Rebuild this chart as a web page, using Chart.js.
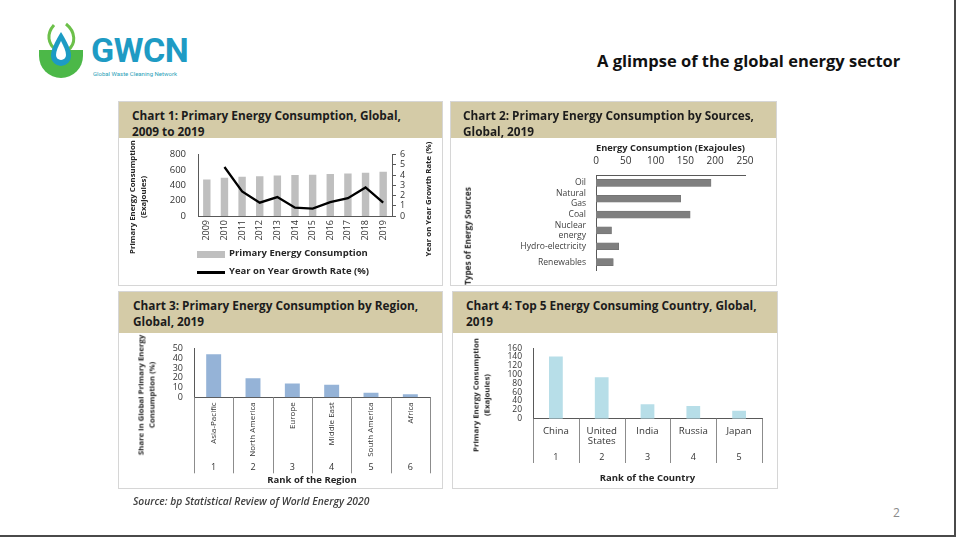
<!DOCTYPE html>
<html>
<head>
<meta charset="utf-8">
<script src="https://cdn.jsdelivr.net/npm/chart.js@4.4.0/dist/chart.umd.min.js"></script>
<style>
  body { margin: 0; background: #fff; font-family: "Open Sans", sans-serif; color: #222; }
  #slide { position: relative; width: 954px; height: 535px; border-right: 2px solid #4a4a4a; border-bottom: 2px solid #4a4a4a; overflow: hidden; }
  .abs { position: absolute; }
  .panel { position: absolute; border: 1px solid #d6d6d6; box-sizing: border-box; }
  .head { position: absolute; left: 0; top: 0; right: 0; background: #d4cba7; font-weight: 700; font-size: 11.8px; line-height: 15.5px; color: #1c1c1c; box-sizing: border-box; padding-top: 6px; white-space: nowrap; }
  .box { position: absolute; }
  .vt { position: absolute; transform: translate(-50%, -50%) rotate(-90deg); white-space: nowrap; text-align: center; font-size: 7.8px; font-weight: 700; line-height: 10.5px; color: #262626; }
  .leg { position: absolute; font-size: 9.5px; font-weight: 700; color: #262626; white-space: nowrap; }
</style>
</head>
<body>
<div id="slide">
  <!-- logo -->
  <svg class="abs" style="left:36px;top:22px" width="52" height="58" viewBox="0 0 52 58">
    <path d="M18 3 C10 12 12 22 20 28" fill="none" stroke="#6cc04a" stroke-width="3"/>
    <path d="M30 2 C40 10 40 22 32 28" fill="none" stroke="#6cc04a" stroke-width="3"/>
    <path d="M3 28 L47 28 L47 34 A22 22 0 0 1 3 34 Z" fill="#4cb848"/>
    <path d="M25 10 C19 20 15 27 15 34 A10 10 0 0 0 35 34 C35 27 31 20 25 10 Z" fill="#1c9bc4"/>
    <path d="M25 19 C22 25 20 29 20 33 A5 5 0 0 0 30 33 C30 29 28 25 25 19 Z" fill="#fff"/>
  </svg>
  <div class="abs" style="left:91px;top:30px;font-family:Roboto,sans-serif;font-weight:700;font-size:34px;line-height:40px;color:#1e9bc4;letter-spacing:-0.5px">GWCN</div>
  <div class="abs" style="left:93px;top:70px;font-family:Roboto,sans-serif;font-size:6px;line-height:8px;color:#2b9fb8">Global Waste Cleaning Network</div>

  <div class="abs" style="left:597px;top:50px;font-weight:700;font-size:16.5px;line-height:22px;color:#111;white-space:nowrap">A glimpse of the global energy sector</div>

  <!-- chart 1 -->
  <div class="panel" style="left:118px;top:101px;width:325px;height:185px">
    <div class="head" style="height:36px;padding-left:13px">Chart 1: Primary Energy Consumption, Global,<br>2009 to 2019</div>
  </div>
  <div class="box" style="left:118px;top:137px;width:325px;height:110px"><canvas id="c1"></canvas></div>
  <div class="vt" style="left:137px;top:197px">Primary Energy Consumption<br>(Exajoules)</div>
  <div class="vt" style="left:428px;top:199px">Year on Year Growth Rate (%)</div>
  <div class="abs" style="left:197px;top:251px;width:28px;height:7px;background:#bfbfbf"></div>
  <div class="leg" style="left:229px;top:246px">Primary Energy Consumption</div>
  <div class="abs" style="left:197px;top:271px;width:28px;height:2.5px;background:#000"></div>
  <div class="leg" style="left:229px;top:264px">Year on Year Growth Rate (%)</div>

  <!-- chart 2 -->
  <div class="panel" style="left:450px;top:101px;width:327px;height:185px">
    <div class="head" style="height:36px;padding-left:12px">Chart 2: Primary Energy Consumption by Sources,<br>Global, 2019</div>
  </div>
  <div class="box" style="left:450px;top:137px;width:326px;height:148px"><canvas id="c2"></canvas></div>
  <div class="vt" style="left:468px;top:236px;font-size:8.2px">Types of Energy Sources</div>

  <!-- chart 3 -->
  <div class="panel" style="left:118px;top:291px;width:325px;height:198px">
    <div class="head" style="height:41px;padding-left:14px">Chart 3: Primary Energy Consumption by Region,<br>Global, 2019</div>
  </div>
  <div class="box" style="left:118px;top:332px;width:323px;height:156px"><canvas id="c3"></canvas></div>
  <div class="vt" style="left:146px;top:395px">Share in Global Primary Energy<br>Consumption (%)</div>

  <!-- chart 4 -->
  <div class="panel" style="left:452px;top:291px;width:326px;height:198px">
    <div class="head" style="height:41px;padding-left:13px">Chart 4: Top 5 Energy Consuming Country, Global,<br>2019</div>
  </div>
  <div class="box" style="left:452px;top:332px;width:326px;height:156px"><canvas id="c4"></canvas></div>
  <div class="vt" style="left:481px;top:395px">Primary Energy Consumption<br>(Exajoules)</div>

  <div class="abs" style="left:133px;top:494px;font-style:italic;font-weight:600;font-size:10.3px;line-height:14px;color:#404040;white-space:nowrap">Source: bp Statistical Review of World Energy 2020</div>
  <div class="abs" style="left:893px;top:505px;font-size:12px;line-height:16px;color:#8a8a8a">2</div>
</div>

<script>
// chart 1 - global consumption 2009-2019
const years = ['2009', '2010', '2011', '2012', '2013', '2014', '2015', '2016', '2017', '2018', '2019'];
const consumption = [476, 500, 512, 520, 527, 535, 539, 547, 555, 566, 578];
const growthRate = [null, 4.8, 2.4, 1.3, 1.85, 0.82, 0.73, 1.35, 1.75, 2.8, 1.3];

// chart 2 - by source
const sources = ['Oil', ['Natural', 'Gas'], 'Coal', ['Nuclear', 'energy'], 'Hydro-electricity', 'Renewables'];
const sourceValues = [193, 142, 158, 26, 38, 29];

// chart 3 - by region
const regions = ['Asia-Pacific', 'North America', 'Europe', 'Middle East', 'South America', 'Africa'];
const regionRanks = ['1', '2', '3', '4', '5', '6'];
const regionShare = [44, 19.5, 14.2, 12.9, 4.6, 3.1];

// chart 4 - top 5 countries
const countries = ['China', ['United', 'States'], 'India', 'Russia', 'Japan'];
const countryRanks = ['1', '2', '3', '4', '5'];
const countryValues = [141, 94, 33, 29, 18];

Chart.defaults.font.family = '"Open Sans", sans-serif';
Chart.defaults.color = '#333';
Chart.defaults.animation = false;
Chart.defaults.plugins.legend.display = false;
Chart.defaults.plugins.tooltip.enabled = false;

const axisColor = '#595959';
const noGrid = { display: false, drawTicks: false };

// draws the category separators of a two level axis
const separators = {
  id: 'separators',
  afterDraw(chart, args, opts) {
    const x = chart.scales.x;
    const x2 = chart.scales.x2;
    const ctx = chart.ctx;
    const n = x.getLabels().length;
    ctx.save();
    ctx.strokeStyle = '#8c8c8c';
    ctx.lineWidth = 1;
    for (let i = 0; i <= n; i++) {
      const px = Math.round(x.getPixelForValue(i - 0.5)) + 0.5;
      ctx.beginPath();
      ctx.moveTo(px, chart.chartArea.bottom);
      ctx.lineTo(px, x2.top + opts.depth);
      ctx.stroke();
    }
    ctx.restore();
  }
};

new Chart(document.getElementById('c1'), {
  data: {
    labels: years,
    datasets: [
      { type: 'line', data: growthRate, yAxisID: 'y1', borderColor: '#000', borderWidth: 2.3, pointRadius: 0, tension: 0, order: 0 },
      { type: 'bar', data: consumption, yAxisID: 'y', backgroundColor: '#bfbfbf', categoryPercentage: 1, barPercentage: 0.42, order: 1 }
    ]
  },
  options: {
    responsive: true,
    maintainAspectRatio: false,
    layout: { padding: { top: 11, left: 0, right: 0, bottom: 0 } },
    scales: {
      x: {
        grid: noGrid,
        border: { color: axisColor },
        ticks: { autoSkip: false, minRotation: 90, maxRotation: 90, padding: 4, font: { size: 9 }, color: '#333' },
        afterFit: s => { s.height = 31; }
      },
      y: {
        position: 'left', min: 0, max: 800,
        grid: noGrid,
        border: { color: axisColor },
        ticks: { autoSkip: false, stepSize: 200, padding: 12, font: { size: 9.5 } },
        afterFit: s => { s.width = 80; }
      },
      y1: {
        position: 'right', min: 0, max: 6,
        grid: { drawOnChartArea: false, drawTicks: true, tickLength: 4, color: axisColor },
        border: { color: axisColor },
        ticks: { autoSkip: false, stepSize: 1, padding: 4, font: { size: 9 } },
        afterFit: s => { s.width = 51; }
      }
    }
  }
});

new Chart(document.getElementById('c2'), {
  type: 'bar',
  data: {
    labels: sources,
    datasets: [{ data: sourceValues, backgroundColor: '#7f7f7f', borderColor: '#6a6a6a', borderWidth: 0.5, barThickness: 7 }]
  },
  options: {
    indexAxis: 'y',
    responsive: true,
    maintainAspectRatio: false,
    layout: { padding: { top: 0, right: 31, left: 0, bottom: 0 } },
    scales: {
      x: {
        position: 'top', min: 0, max: 250,
        grid: noGrid,
        border: { color: axisColor },
        ticks: { autoSkip: false, stepSize: 50, padding: 8, font: { size: 10 } },
        title: { display: true, text: 'Energy Consumption (Exajoules)', font: { size: 9.4, weight: 'bold' }, color: '#262626', padding: { top: 6, bottom: 0 } },
        afterFit: s => { s.height = 38; }
      },
      y: {
        grid: noGrid,
        border: { color: axisColor },
        ticks: { autoSkip: false, padding: 10, font: { size: 8.6, lineHeight: 1.15 }, color: '#404040' },
        afterFit: s => { s.width = 146; }
      }
    }
  }
});

new Chart(document.getElementById('c3'), {
  type: 'bar',
  data: {
    labels: regions,
    datasets: [{ data: regionShare, backgroundColor: '#95b3d7', categoryPercentage: 1, barPercentage: 0.38 }]
  },
  options: {
    responsive: true,
    maintainAspectRatio: false,
    layout: { padding: { top: 10, right: 11, left: 0, bottom: 0 } },
    plugins: { separators: { depth: 12 } },
    scales: {
      x: {
        grid: noGrid,
        border: { color: axisColor },
        ticks: { autoSkip: false, minRotation: 90, maxRotation: 90, padding: 5, font: { size: 8 } },
        afterFit: s => { s.height = 64; }
      },
      x2: {
        type: 'category', labels: regionRanks, position: 'bottom', offset: true,
        grid: noGrid,
        border: { display: false },
        ticks: { autoSkip: false, padding: 1, font: { size: 9 } },
        title: { display: true, text: 'Rank of the Region', font: { size: 9.5, weight: 'bold' }, color: '#262626', padding: { top: 0, bottom: 2.3 } },
        afterFit: s => { s.height = 26.7; }
      },
      y: {
        min: 0, max: 50,
        grid: noGrid,
        border: { color: axisColor },
        ticks: { autoSkip: false, stepSize: 10, padding: 11, font: { size: 9 } },
        afterFit: s => { s.width = 76; }
      }
    }
  },
  plugins: [separators]
});

new Chart(document.getElementById('c4'), {
  type: 'bar',
  data: {
    labels: countries,
    datasets: [{ data: countryValues, backgroundColor: '#b7dee8', categoryPercentage: 1, barPercentage: 0.3 }]
  },
  options: {
    responsive: true,
    maintainAspectRatio: false,
    layout: { padding: { top: 10, right: 16, left: 0, bottom: 0 } },
    plugins: { separators: { depth: 16 } },
    scales: {
      x: {
        grid: noGrid,
        border: { color: axisColor },
        ticks: { autoSkip: false, maxRotation: 0, padding: 7, font: { size: 9.7, lineHeight: 1.1 } },
        afterFit: s => { s.height = 28.3; }
      },
      x2: {
        type: 'category', labels: countryRanks, position: 'bottom', offset: true,
        grid: noGrid,
        border: { display: false },
        ticks: { autoSkip: false, padding: 5, font: { size: 9 } },
        title: { display: true, text: 'Rank of the Country', font: { size: 9.5, weight: 'bold' }, color: '#262626', padding: { top: 0, bottom: 4.3 } },
        afterFit: s => { s.height = 41; }
      },
      y: {
        min: 0, max: 160,
        grid: noGrid,
        border: { color: axisColor },
        ticks: { autoSkip: false, stepSize: 20, padding: 11, font: { size: 8.5 } },
        afterFit: s => { s.width = 81; }
      }
    }
  },
  plugins: [separators]
});
</script>
</body>
</html>
